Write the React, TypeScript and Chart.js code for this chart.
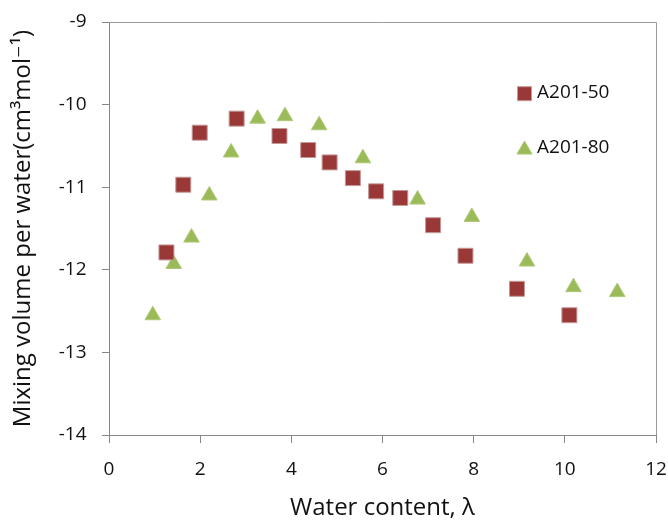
import React, { useEffect, useRef } from 'react';
import { Chart, registerables } from 'chart.js';
import { drawPoint } from 'chart.js/helpers';

Chart.register(...registerables);

const seriesNames = ['A201-50', 'A201-80'];

const a50Lambda = [1.26, 1.63, 1.99, 2.8, 3.74, 4.37, 4.84, 5.35, 5.86, 6.39, 7.11, 7.82, 8.95, 10.1];
const a50Volume = [-11.79, -10.97, -10.34, -10.17, -10.38, -10.55, -10.7, -10.89, -11.05, -11.13, -11.46, -11.83, -12.23, -12.55];

const a80Lambda = [0.96, 1.42, 1.81, 2.2, 2.68, 3.26, 3.86, 4.61, 5.57, 6.77, 7.96, 9.17, 10.19, 11.15];
const a80Volume = [-12.55, -11.93, -11.61, -11.1, -10.58, -10.17, -10.14, -10.25, -10.65, -11.15, -11.36, -11.9, -12.21, -12.27];

const xMin = 0;
const xMax = 12;
const xStep = 2;
const yMin = -14;
const yMax = -9;
const yStep = 1;

const xTitle = 'Water content, λ';
const yTitle = 'Mixing volume per water(cm³mol⁻¹)';

const FONT = "'Open Sans', 'DejaVu Sans', sans-serif";
const AXIS = '#878787';
const TEXT = '#111111';
const RED = '#993836';
const RED_EDGE = '#c29a98';
const GREEN = '#9bbb59';
const GREEN_EDGE = '#adc978';

const zeroPad = (s: any) => {
  s.paddingLeft = 0;
  s.paddingRight = 0;
  s.paddingTop = 0;
  s.paddingBottom = 0;
};

const framePlugin = {
  id: 'frame',
  beforeDatasetsDraw(chart: any) {
    const { ctx, chartArea } = chart;
    ctx.save();
    ctx.strokeStyle = '#9a9a9a';
    ctx.lineWidth = 1;
    ctx.beginPath();
    ctx.moveTo(chartArea.left, Math.round(chartArea.top) + 0.5);
    ctx.lineTo(Math.round(chartArea.right) + 0.5, Math.round(chartArea.top) + 0.5);
    ctx.lineTo(Math.round(chartArea.right) + 0.5, chartArea.bottom);
    ctx.stroke();
    ctx.restore();
  },
};

const legendPlugin = {
  id: 'innerLegend',
  afterDraw(chart: any) {
    const { ctx, chartArea } = chart;
    const entries = [
      { ds: chart.data.datasets[0], dy: 71.7, ty: 70.4, r: 9.9 },
      { ds: chart.data.datasets[1], dy: 127.7, ty: 125.4, r: 8.7 },
    ];
    ctx.save();
    entries.forEach((e) => {
      const mx = chartArea.right - 131.5;
      const my = chartArea.top + e.dy;
      ctx.fillStyle = e.ds.backgroundColor;
      ctx.strokeStyle = e.ds.borderColor;
      ctx.lineWidth = 1;
      drawPoint(ctx, { pointStyle: e.ds.pointStyle, radius: e.r, rotation: 0, borderWidth: 1 } as any, mx, my);
      ctx.fillStyle = TEXT;
      ctx.font = `19px ${FONT}`;
      ctx.textAlign = 'left';
      ctx.textBaseline = 'middle';
      ctx.fillText(e.ds.label, chartArea.right - 119, chartArea.top + e.ty);
    });
    ctx.restore();
  },
};

export default function App() {
  const ref = useRef<HTMLCanvasElement | null>(null);

  useEffect(() => {
    document.body.style.margin = '0';
    const canvas = ref.current;
    if (!canvas) return;
    const chart = new Chart(canvas, {
      type: 'scatter',
      data: {
        datasets: [
          {
            label: seriesNames[0],
            data: a50Lambda.map((x, i) => ({ x, y: a50Volume[i] })),
            pointStyle: 'rect',
            pointRadius: 10.6,
            backgroundColor: RED,
            borderColor: RED_EDGE,
            borderWidth: 1,
          },
          {
            label: seriesNames[1],
            data: a80Lambda.map((x, i) => ({ x, y: a80Volume[i] })),
            pointStyle: 'triangle',
            pointRadius: 9,
            backgroundColor: GREEN,
            borderColor: GREEN_EDGE,
            borderWidth: 1,
          },
        ],
      },
      options: {
        responsive: false,
        animation: false,
        devicePixelRatio: 1,
        layout: { padding: { top: 22, right: 12, left: 0, bottom: 0 } },
        plugins: {
          legend: { display: false },
          tooltip: { enabled: false },
        },
        scales: {
          x: {
            type: 'linear',
            min: xMin,
            max: xMax,
            ticks: {
              stepSize: xStep,
              color: TEXT,
              padding: 15,
              font: { family: FONT, size: 19 },
              callback: (v: any) => String(v),
            },
            grid: { drawOnChartArea: false, tickLength: 8, color: AXIS, lineWidth: 1 },
            border: { color: AXIS, width: 1 },
            title: {
              display: true,
              text: xTitle,
              color: '#111',
              font: { family: FONT, size: 24, lineHeight: 1 },
              padding: { top: 0, bottom: 0 },
            },
            afterFit: (s: any) => {
              s.height = 85;
              zeroPad(s);
            },
          },
          y: {
            type: 'linear',
            min: yMin,
            max: yMax,
            ticks: {
              stepSize: yStep,
              color: TEXT,
              padding: 15.5,
              font: { family: FONT, size: 19 },
              callback: (v: any) => String(v),
            },
            grid: { drawOnChartArea: false, tickLength: 7, color: AXIS, lineWidth: 1 },
            border: { color: AXIS, width: 1 },
            title: {
              display: true,
              text: yTitle,
              color: '#111',
              font: { family: FONT, size: 24, lineHeight: 1 },
              padding: { top: 10.7, bottom: 0 },
            },
            afterFit: (s: any) => {
              s.width = 109;
              zeroPad(s);
            },
          },
        },
      },
      plugins: [framePlugin, legendPlugin],
    });
    return () => chart.destroy();
  }, []);

  return (
    <div style={{ width: 668, height: 520 }}>
      <canvas ref={ref} width={668} height={520} style={{ display: 'block' }} />
    </div>
  );
}
